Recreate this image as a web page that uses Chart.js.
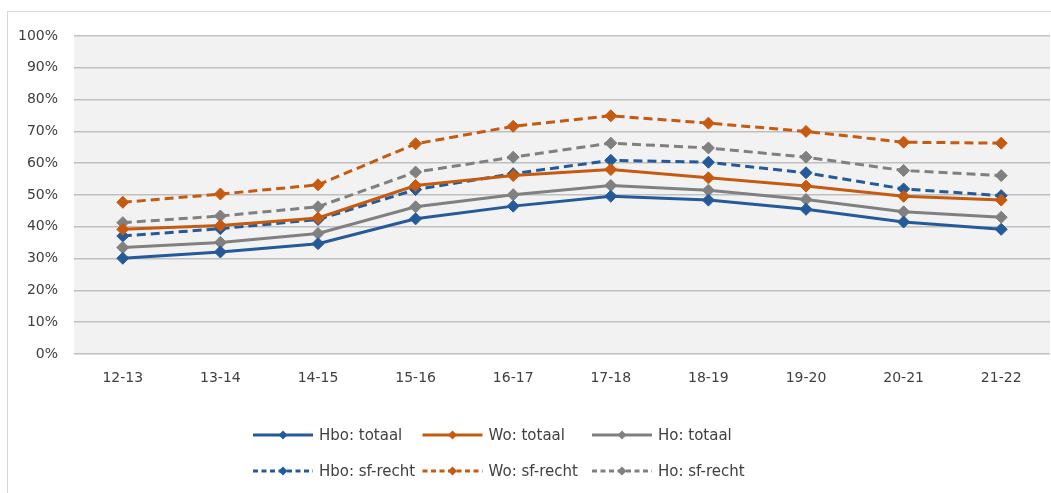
<!DOCTYPE html>
<html>
<head>
<meta charset="utf-8">
<script src="https://cdn.jsdelivr.net/npm/chart.js@4/dist/chart.umd.min.js"></script>
<style>
  html, body { margin: 0; padding: 0; background: #fff; overflow: hidden; }
  #kader { position: absolute; left: 7px; top: 11px; width: 1100px; height: 600px; border: 1px solid #d9d9d9; box-sizing: border-box; }
  #houder { position: absolute; left: 0; top: 0; width: 1051px; height: 493px; }
</style>
</head>
<body>
<div id="kader"></div>
<div id="houder"><canvas id="diagram" width="1051" height="493"></canvas></div>
<script>
const categorieen = ["12-13", "13-14", "14-15", "15-16", "16-17", "17-18", "18-19", "19-20", "20-21", "21-22"];
const hboTotaal = [30.1, 32.1, 34.7, 42.5, 46.5, 49.6, 48.4, 45.5, 41.5, 39.2];
const woTotaal  = [39.2, 40.4, 42.8, 53.0, 56.1, 58.0, 55.4, 52.8, 49.6, 48.4];
const hoTotaal  = [33.5, 35.1, 37.9, 46.3, 50.1, 53.0, 51.5, 48.6, 44.7, 43.0];
const hboSf     = [37.1, 39.4, 42.3, 51.7, 56.7, 60.9, 60.3, 57.0, 51.9, 49.8];
const woSf      = [47.7, 50.3, 53.2, 66.1, 71.6, 74.9, 72.6, 70.0, 66.6, 66.3];
const hoSf      = [41.3, 43.4, 46.3, 57.2, 61.9, 66.3, 64.8, 61.9, 57.7, 56.1];
const yTicks = [0, 10, 20, 30, 40, 50, 60, 70, 80, 90, 100];

const blauw = "#245a99";
const oranje = "#c55a11";
const grijs = "#808080";
const lettertype = "'DejaVu Sans', sans-serif";
const streep = [9, 5];

function reeks(label, data, kleur, gestreept) {
  return {
    label: label,
    data: data,
    borderColor: kleur,
    backgroundColor: kleur,
    borderWidth: 3,
    borderDash: gestreept ? streep : [],
    pointStyle: "rectRot",
    pointRadius: 6,
    pointHoverRadius: 6,
    pointBorderWidth: 1,
    pointBorderColor: kleur,
    pointBackgroundColor: kleur,
    fill: false,
    tension: 0
  };
}

// grijze achtergrond van het plotvlak
const achtergrond = {
  id: "achtergrond",
  beforeDraw(chart) {
    const { ctx, chartArea } = chart;
    ctx.save();
    ctx.fillStyle = "#f2f2f2";
    ctx.fillRect(chartArea.left, chartArea.top, chartArea.right - chartArea.left, chartArea.bottom - chartArea.top);
    ctx.restore();
  }
};

// legenda in twee rijen van drie, zoals in Excel
const legenda = {
  id: "legenda",
  afterDraw(chart) {
    const ctx = chart.ctx;
    ctx.save();
    ctx.font = "15px " + lettertype;
    ctx.textBaseline = "middle";
    chart.data.datasets.forEach((ds, i) => {
      const kol = i % 3;
      const rij = Math.floor(i / 3);
      const x = 253 + kol * 169.5;
      const y = 435 + rij * 36;
      ctx.strokeStyle = ds.borderColor;
      ctx.lineWidth = 3;
      ctx.setLineDash(ds.borderDash.length ? [5, 3.5] : []);
      ctx.beginPath();
      ctx.moveTo(x, y);
      ctx.lineTo(x + 60, y);
      ctx.stroke();
      ctx.setLineDash([]);
      ctx.fillStyle = ds.borderColor;
      ctx.beginPath();
      ctx.moveTo(x + 30, y - 4.5);
      ctx.lineTo(x + 34.5, y);
      ctx.lineTo(x + 30, y + 4.5);
      ctx.lineTo(x + 25.5, y);
      ctx.closePath();
      ctx.fill();
      ctx.fillStyle = "#404040";
      ctx.fillText(ds.label, x + 66, y + 1);
    });
    ctx.restore();
  }
};

new Chart(document.getElementById("diagram"), {
  type: "line",
  data: {
    labels: categorieen,
    datasets: [
      reeks("Hbo: totaal", hboTotaal, blauw, false),
      reeks("Wo: totaal", woTotaal, oranje, false),
      reeks("Ho: totaal", hoTotaal, grijs, false),
      reeks("Hbo: sf-recht", hboSf, blauw, true),
      reeks("Wo: sf-recht", woSf, oranje, true),
      reeks("Ho: sf-recht", hoSf, grijs, true)
    ]
  },
  options: {
    responsive: false,
    animation: false,
    layout: { autoPadding: false, padding: { left: 0, right: 1, top: 36, bottom: 99 } },
    plugins: {
      legend: { display: false },
      tooltip: { enabled: false }
    },
    scales: {
      x: {
        offset: true,
        grid: { display: false, drawTicks: false, offset: true },
        border: { display: false },
        ticks: { color: "#404040", font: { family: lettertype, size: 14 }, padding: 16, maxRotation: 0, autoSkip: false },
        afterFit(scale) { scale.height = 40; scale.paddingLeft = 0; scale.paddingRight = 0; }
      },
      y: {
        min: 0,
        max: 100,
        afterBuildTicks(scale) { scale.ticks = yTicks.map(v => ({ value: v })); },
        grid: { color: "#c0c0c0", lineWidth: 1.5, drawTicks: false },
        border: { display: false },
        ticks: { color: "#404040", font: { family: lettertype, size: 14 }, padding: 16, callback: v => v + "%" },
        afterFit(scale) { scale.width = 74; }
      }
    }
  },
  plugins: [achtergrond, legenda]
});
</script>
</body>
</html>
